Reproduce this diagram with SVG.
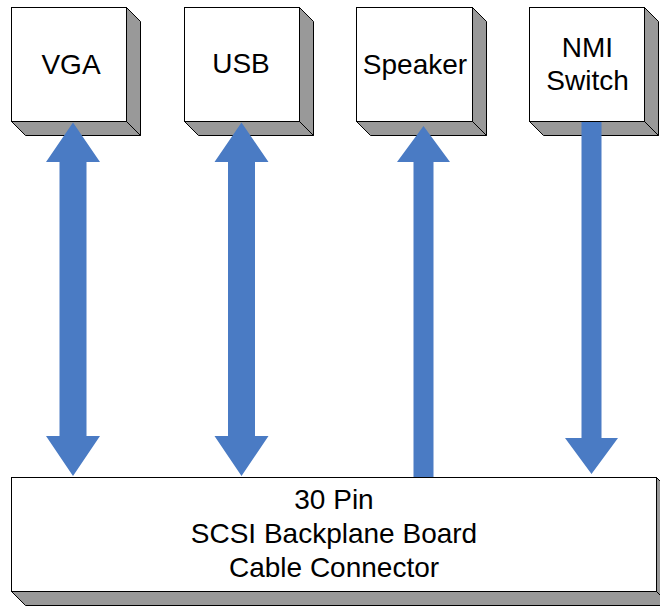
<svg xmlns="http://www.w3.org/2000/svg" width="660" height="607" viewBox="0 0 660 607">
<style>
.front{fill:#ffffff;stroke:#000000;stroke-width:1}
.side{fill:#999999;stroke:#000000;stroke-width:1;stroke-linejoin:round}
.lbl{font-family:"Liberation Sans",Arial,sans-serif;font-size:28px;fill:#000000;text-anchor:middle}
.arrow{fill:#4A7BC4;stroke:none}
</style>
<rect width="660" height="607" fill="#ffffff"/>
<g id="vga">
<polygon class="side" points="126.5,7.5 140.5,21.5 140.5,135.5 126.5,121.5"/>
<polygon class="side" points="11.5,121.5 126.5,121.5 140.5,135.5 25.5,135.5"/>
<rect class="front" x="11.5" y="7.5" width="115" height="114"/>
<text class="lbl" x="71" y="73.5">VGA</text>
</g>
<g id="usb">
<polygon class="side" points="299.5,7.5 313.5,21.5 313.5,135.5 299.5,121.5"/>
<polygon class="side" points="184.5,121.5 299.5,121.5 313.5,135.5 198.5,135.5"/>
<rect class="front" x="184.5" y="7.5" width="115" height="114"/>
<text class="lbl" x="241" y="73">USB</text>
</g>
<g id="speaker">
<polygon class="side" points="472.5,7.5 486.5,21.5 486.5,135.5 472.5,121.5"/>
<polygon class="side" points="356.5,121.5 472.5,121.5 486.5,135.5 370.5,135.5"/>
<rect class="front" x="356.5" y="7.5" width="116" height="114"/>
<text class="lbl" x="415" y="74">Speaker</text>
</g>
<g id="nmi">
<polygon class="side" points="644.5,7.5 658.5,21.5 658.5,135.5 644.5,121.5"/>
<polygon class="side" points="529.5,121.5 644.5,121.5 658.5,135.5 543.5,135.5"/>
<rect class="front" x="529.5" y="7.5" width="115" height="114"/>
<text class="lbl" x="587.5" y="56.5">NMI</text>
<text class="lbl" x="587.5" y="90">Switch</text>
</g>
<g id="connector">
<polygon class="side" points="656.5,477.5 670.5,491.5 670.5,605.5 656.5,591.5"/>
<polygon class="side" points="11.5,591.5 656.5,591.5 670.5,605.5 25.5,605.5"/>
<rect class="front" x="11.5" y="477.5" width="645" height="114"/>
<text class="lbl" x="334" y="508.5">30 Pin</text>
<text class="lbl" x="334" y="542.5">SCSI Backplane Board</text>
<text class="lbl" x="334" y="576.5">Cable Connector</text>
</g>
<g id="connectors">
<polygon class="arrow" points="73,122.5 100,162 86.5,162 86.5,436 100,436 73,476 46,436 59.5,436 59.5,162 46,162"/>
<polygon class="arrow" points="241.5,122.5 268.5,162 255,162 255,436 268.5,436 241.5,476 214.5,436 228,436 228,162 214.5,162"/>
<polygon class="arrow" points="423.5,126 450,162 433.5,162 433.5,477 413.5,477 413.5,162 397,162"/>
<polygon class="arrow" points="581.5,122 601.5,122 601.5,438 618,438 591.5,474 565,438 581.5,438"/>
</g>
</svg>
